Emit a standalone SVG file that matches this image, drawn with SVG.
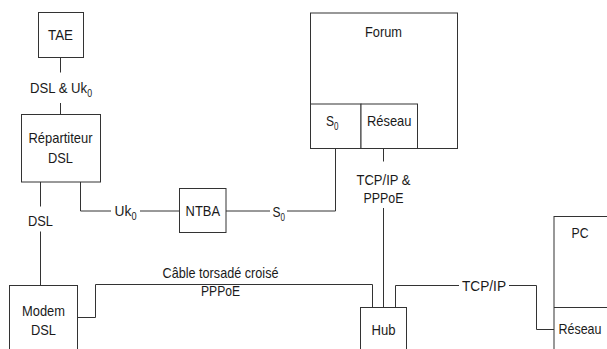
<svg xmlns="http://www.w3.org/2000/svg" width="607" height="349" viewBox="0 0 607 349">
<style>
.box{fill:#fff;stroke:#333;stroke-width:1}
.ln{fill:none;stroke:#333;stroke-width:1}
text{font-family:"Liberation Sans",Arial,sans-serif;font-size:15px;fill:#1a1a1a}
.c{text-anchor:middle}
.sub{font-size:10px}
</style>
<rect width="607" height="349" fill="#fff"/>
<g id="connectors">
<path class="ln" d="M60.5,57.5V72.5M60.5,103V114"/>
<path class="ln" d="M40.5,182V206.5M40.5,231.5V285"/>
<path class="ln" d="M80.5,182V211H111M140,211H179.5"/>
<path class="ln" d="M226,211H270M287,211H335.5V149"/>
<path class="ln" d="M383.5,149V161.5M383.5,208V307.5"/>
<path class="ln" d="M77.5,317.5H95.5V284.5H372.5V307.5"/>
<path class="ln" d="M395.5,307.5V285.5H459M509,285.5H536.5V329.5H554"/>
</g>
<g id="tae">
<rect class="box" x="38.5" y="12.5" width="45" height="45"/>
<text class="c" x="60.5" y="40" textLength="25" lengthAdjust="spacingAndGlyphs">TAE</text>
</g>
<g id="label-dsl-uk0">
<text x="30" y="92.5" textLength="62" lengthAdjust="spacingAndGlyphs">DSL &amp; Uk<tspan class="sub" dy="4">0</tspan></text>
</g>
<g id="repartiteur">
<rect class="box" x="21.5" y="114.5" width="79" height="67.5"/>
<text class="c" x="60.5" y="143" textLength="64" lengthAdjust="spacingAndGlyphs">Répartiteur</text>
<text class="c" x="60.5" y="163" textLength="25" lengthAdjust="spacingAndGlyphs">DSL</text>
</g>
<g id="label-dsl">
<text class="c" x="40.5" y="226" textLength="25" lengthAdjust="spacingAndGlyphs">DSL</text>
</g>
<g id="modem">
<rect class="box" x="9.5" y="285.5" width="68" height="80"/>
<text class="c" x="43.5" y="315.5" textLength="43" lengthAdjust="spacingAndGlyphs">Modem</text>
<text class="c" x="43.5" y="334.5" textLength="25" lengthAdjust="spacingAndGlyphs">DSL</text>
</g>
<g id="label-uk0">
<text x="114.5" y="215.5" textLength="22" lengthAdjust="spacingAndGlyphs">Uk<tspan class="sub" dy="4">0</tspan></text>
</g>
<g id="ntba">
<rect class="box" x="179.5" y="188.5" width="46.5" height="44"/>
<text class="c" x="202.8" y="216" textLength="34.4" lengthAdjust="spacingAndGlyphs">NTBA</text>
</g>
<g id="label-s0">
<text x="272.5" y="216.5" textLength="12.5" lengthAdjust="spacingAndGlyphs">S<tspan class="sub" dy="4">0</tspan></text>
</g>
<g id="forum">
<rect class="box" x="310.5" y="13" width="147" height="135.5"/>
<text class="c" x="383.5" y="36.5" textLength="37" lengthAdjust="spacingAndGlyphs">Forum</text>
<rect class="box" x="310.5" y="104" width="50.5" height="44.5"/>
<text x="326" y="126" textLength="12.5" lengthAdjust="spacingAndGlyphs">S<tspan class="sub" dy="4">0</tspan></text>
<rect class="box" x="361" y="104" width="56.5" height="44.5"/>
<text class="c" x="389.2" y="126" textLength="44.5" lengthAdjust="spacingAndGlyphs">Réseau</text>
</g>
<g id="label-tcpip-pppoe">
<text class="c" x="383.5" y="184.5" textLength="54" lengthAdjust="spacingAndGlyphs">TCP/IP &amp;</text>
<text class="c" x="383.5" y="203" textLength="40" lengthAdjust="spacingAndGlyphs">PPPoE</text>
</g>
<g id="label-cable">
<text class="c" x="220.5" y="277.5" textLength="116" lengthAdjust="spacingAndGlyphs">Câble torsadé croisé</text>
<text class="c" x="220.5" y="296" textLength="39" lengthAdjust="spacingAndGlyphs">PPPoE</text>
</g>
<g id="hub">
<rect class="box" x="360.5" y="307.5" width="46" height="60"/>
<text class="c" x="383.5" y="335" textLength="24" lengthAdjust="spacingAndGlyphs">Hub</text>
</g>
<g id="label-tcpip">
<text class="c" x="484" y="290.5" textLength="44" lengthAdjust="spacingAndGlyphs">TCP/IP</text>
</g>
<g id="pc">
<rect class="box" x="554" y="216.5" width="70" height="150"/>
<line class="ln" x1="554" y1="307.5" x2="607" y2="307.5"/>
<text class="c" x="580" y="238" textLength="17" lengthAdjust="spacingAndGlyphs">PC</text>
<text class="c" x="580" y="333.5" textLength="43" lengthAdjust="spacingAndGlyphs">Réseau</text>
</g>
</svg>
